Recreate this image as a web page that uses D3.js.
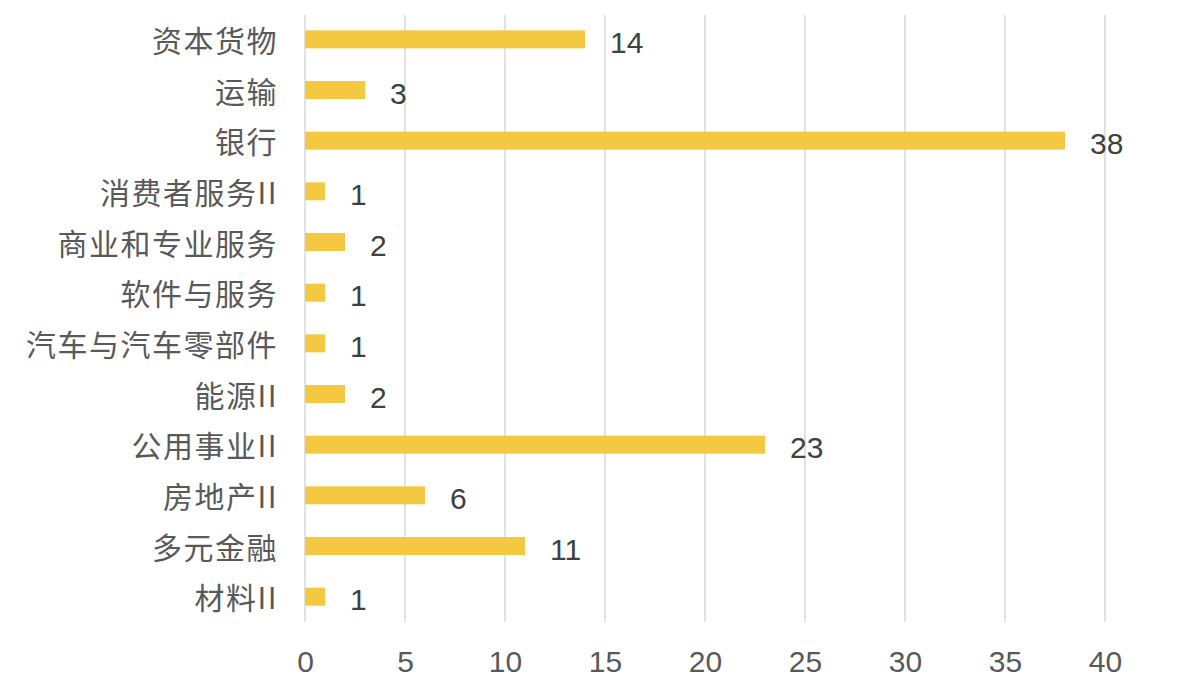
<!DOCTYPE html>
<html>
<head>
<meta charset="utf-8">
<script src="https://cdn.jsdelivr.net/npm/d3@7"></script>
<style>
  html, body { margin: 0; padding: 0; background: #ffffff; }
  svg { display: block; }
</style>
</head>
<body>
<svg id="chart" width="1178" height="696"></svg>
<script>
// ── Data ──────────────────────────────────────────────────────────────────────
const categories = [
  '资本货物', '运输', '银行', '消费者服务II', '商业和专业服务', '软件与服务',
  '汽车与汽车零部件', '能源II', '公用事业II', '房地产II', '多元金融', '材料II'
];
const counts = [14, 3, 38, 1, 2, 1, 1, 2, 23, 6, 11, 1];
const xTicks = [0, 5, 10, 15, 20, 25, 30, 35, 40];

// ── Layout ────────────────────────────────────────────────────────────────────
const X0 = 305, X1 = 1105;
const Y0 = 14, Y1 = 622;
const BAR_COLOR  = '#f5c842';
const GRID_COLOR = '#d9d9d9';
const TEXT_COLOR = '#595959';
const CJK_FONT = '"Noto Sans CJK SC", "Noto Sans", sans-serif';
const NUM_FONT = '"Liberation Sans", Arial, sans-serif';

const svg = d3.select('#chart');

const x = d3.scaleLinear().domain([0, 40]).range([X0, X1]);
const y = d3.scaleBand()
  .domain(categories)
  .range([Y0, Y1])
  .paddingInner(0.645)
  .paddingOuter(0.3225);

// ── Grid ──────────────────────────────────────────────────────────────────────
svg.append('g')
  .selectAll('line')
  .data(xTicks)
  .join('line')
  .attr('x1', d => x(d)).attr('x2', d => x(d))
  .attr('y1', Y0 + 1).attr('y2', Y1)
  .attr('stroke', GRID_COLOR)
  .attr('stroke-width', 1.5);

// ── Bars ──────────────────────────────────────────────────────────────────────
const rows = categories.map((c, i) => ({ c, v: counts[i] }));

svg.append('g')
  .selectAll('rect')
  .data(rows)
  .join('rect')
  .attr('x', x(0))
  .attr('y', d => y(d.c))
  .attr('width', d => x(d.v) - x(0))
  .attr('height', y.bandwidth())
  .attr('fill', BAR_COLOR);

// ── Value labels ──────────────────────────────────────────────────────────────
svg.append('g')
  .selectAll('text')
  .data(rows)
  .join('text')
  .attr('x', d => x(d.v) + 25)
  .attr('y', d => y(d.c) + y.bandwidth() / 2 + 3)
  .attr('dominant-baseline', 'central')
  .attr('font-family', NUM_FONT)
  .attr('font-size', 30)
  .attr('fill', '#404040')
  .text(d => d.v);

// ── Y axis (category labels) ──────────────────────────────────────────────────
const yAxis = svg.append('g')
  .attr('transform', `translate(${X0 - 27},2)`)
  .call(d3.axisLeft(y).tickSize(0).tickPadding(0));
yAxis.select('.domain').remove();
yAxis.selectAll('text')
  .attr('font-family', CJK_FONT)
  .attr('font-size', 30)
  .attr('letter-spacing', 1.5)
  .attr('fill', TEXT_COLOR)
  .attr('dy', '0.36em');

// ── X axis ────────────────────────────────────────────────────────────────────
const xAxis = svg.append('g')
  .attr('transform', `translate(0,${Y1})`)
  .call(d3.axisBottom(x).tickValues(xTicks).tickSize(0).tickPadding(29));
xAxis.select('.domain').remove();
xAxis.selectAll('text')
  .attr('font-family', NUM_FONT)
  .attr('font-size', 30)
  .attr('fill', TEXT_COLOR);
</script>
</body>
</html>
